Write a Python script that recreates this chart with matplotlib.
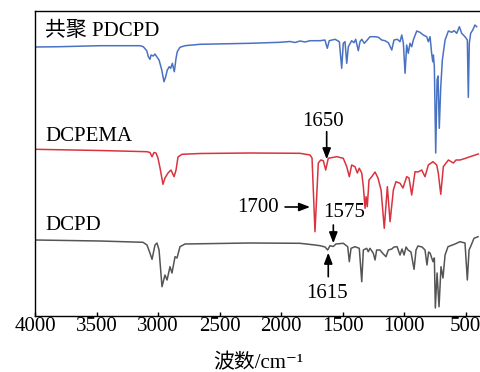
import matplotlib
matplotlib.use("Agg")
import matplotlib.pyplot as plt

# ---- data (wavenumber cm-1, stacked relative transmittance) ----
pdcpd_wn = [4000, 3797, 3472, 3147, 3120, 3092, 3079, 3066, 3057, 3039, 3025, 3011, 2992, 2970, 2952,
            2938, 2925, 2909, 2897, 2884, 2868, 2854, 2844, 2822, 2781, 2659, 2253, 2009, 1928, 1887,
            1846, 1806, 1765, 1684, 1644, 1625, 1609, 1562, 1527, 1508, 1495, 1481, 1467, 1454, 1427,
            1408, 1394, 1373, 1359, 1345, 1324, 1305, 1278, 1237, 1210, 1183, 1156, 1129, 1101, 1083,
            1056, 1034, 1020, 1007, 993, 980, 967, 953, 939, 926, 898, 872, 845, 817, 804, 790, 777,
            768, 763, 755, 744, 733, 725, 715, 703, 690, 668, 641, 614, 595, 573, 552, 533, 506, 487,
            479, 471, 460, 443, 425, 411]
pdcpd_t = [268.7, 269, 270, 270, 269, 265, 259, 256.4, 260.7, 259.7, 261.7, 259, 255.7, 245.7, 234,
           239, 245.7, 249, 247.4, 252.4, 244, 257.4, 264, 268.4, 270, 271.4, 272.4, 273.4, 274.2, 273.2,
           274.7, 273.7, 275, 275, 275.7, 267.4, 275, 276.4, 274, 247.4, 272.4, 274, 252.4, 269, 275,
           273, 276.4, 265, 274, 276.4, 272.4, 275, 279, 279, 278.4, 275.7, 275, 273, 265.7, 275.7,
           276.4, 274, 280.7, 272.7, 242.4, 270.7, 262.4, 272.4, 269, 275.7, 284.7, 283.4, 280.7, 279, 274, 279, 262.4,
           254, 260.7, 249, 162.7, 235.7, 239.7, 187.4, 229, 255.7, 275.7, 284.7, 283.4, 285, 282.4, 289, 282.4, 279, 275.7,
           218.4, 272.4, 282.4, 285.7, 290.7, 289]

dcpema_wn = [4000, 3472, 3090, 3066, 3049, 3033, 3017, 3001, 2984, 2960, 2944, 2919, 2895, 2870, 2854,
             2838, 2806, 2659, 2253, 1847, 1765, 1749, 1725, 1698, 1678, 1657, 1638, 1617, 1548, 1495,
             1467, 1446, 1427, 1400, 1381, 1365, 1345, 1332, 1318, 1310, 1300, 1286, 1264, 1237, 1213,
             1188, 1162, 1137, 1115, 1088, 1067, 1034, 1010, 980, 961, 939, 912, 888, 858, 831, 804,
             766, 736, 723, 703, 682, 641, 601, 579, 546, 506, 465, 398]
dcpema_t = [166.4, 165.2, 164, 163.2, 159, 163.2, 162.7, 157.7, 147.7, 131.4, 137.7, 142.7, 145.7, 139, 145.7,
            158.7, 161.4, 162.2, 162.7, 162.4, 160.7, 157.7, 84, 152.7, 155.7, 155, 145.7, 157.4, 159, 157.4,
            149, 139, 150.7, 149, 142.7, 147.4, 142.7, 129, 107.4, 119, 109, 135.7, 139, 143.7, 137.7,
            125.7, 87.4, 129, 94, 125.7, 134, 132.4, 127.7, 139, 137.7, 120.7, 144, 143.7, 145.7, 139, 150.7,
            154, 150.7, 142.7, 121.4, 149, 155.7, 152.7, 155.7, 155.7, 157.2, 159, 161.7]

dcpd_wn = [4000, 3472, 3122, 3090, 3066, 3049, 3025, 3009, 2992, 2968, 2944, 2927, 2903, 2887, 2862,
           2846, 2822, 2781, 2253, 1847, 1725, 1684, 1643, 1622, 1603, 1576, 1555, 1495, 1459, 1446,
           1432, 1400, 1365, 1345, 1332, 1305, 1292, 1278, 1251, 1237, 1224, 1197, 1175, 1148, 1129,
           1101, 1083, 1058, 1034, 1018, 1001, 985, 969, 945, 920, 904, 888, 855, 831, 815, 802, 790,
           766, 755, 747, 733, 717, 701, 685, 668, 644, 587, 547, 506, 487, 473, 461, 433, 400]
dcpd_t = [75.7, 74.7, 73.4, 70.7, 62.7, 56.4, 70.7, 72.7, 65.7, 29, 40.7, 35.7, 49, 42.7, 59,
          57.7, 69, 71.7, 72.7, 72.4, 70.7, 70, 68.7, 65.7, 70, 69.2, 71.7, 72.4, 69, 54,
          67.4, 69, 67.4, 34, 65.7, 67.4, 64, 67.4, 62.4, 55.7, 65.7, 65.7, 62.4, 59, 65.7,
          66.7, 68.7, 69, 60.7, 66.7, 60.7, 68.7, 65.7, 63.7, 46.4, 65.7, 69.7, 68.7, 65.7, 50.7, 63.7, 62.7,
          54, 57.7, 7.7, 42.7, 9, 49, 37.7, 60.7, 69, 71.7, 74, 72.7, 35.7, 65.7, 69, 77.4, 79]

series_names = ["共聚 PDCPD", "DCPEMA", "DCPD"]
xticks = [4000, 3500, 3000, 2500, 2000, 1500, 1000, 500]
xlabel = "波数/cm⁻¹"
annotations = ["1650", "1700", "1575", "1615"]

# ---- style ----
FONT = ["Liberation Serif", "Noto Sans CJK SC", "DejaVu Serif"]
plt.rcParams["font.family"] = FONT
plt.rcParams["font.size"] = 15

fig = plt.figure(figsize=(4.81, 3.72), dpi=100)
ax = fig.add_axes([35 / 481, 1 - 315.7 / 372, 1 - 35 / 481, (315.7 - 10.5) / 372])

ax.plot(pdcpd_wn, pdcpd_t, color="#4a72c2", lw=1.1)
ax.plot(dcpema_wn, dcpema_t, color="#d93340", lw=1.1)
ax.plot(dcpd_wn, dcpd_t, color="#555555", lw=1.1)

ax.set_xlim(4000, 376)
ax.set_ylim(0, 305.2)
ax.set_xticks(xticks)
ax.set_xticklabels([str(t) for t in xticks])
ax.set_yticks([])
ax.tick_params(axis="x", direction="in", length=3, width=1, pad=1, labelsize=15)
ax.spines["right"].set_visible(False)
for s in ["top", "left", "bottom"]:
    ax.spines[s].set_linewidth(1.0)

ax.set_xlabel(xlabel, fontsize=15, labelpad=13)

ax.text(3919, 284.5, series_names[0], ha="left", va="center", fontsize=15)
ax.text(3914, 179, series_names[1], ha="left", va="center", fontsize=15)
ax.text(3914, 90.5, series_names[2], ha="left", va="center", fontsize=15)

ap = dict(arrowstyle="-|>,head_length=0.65,head_width=0.25", color="black", lw=1.2,
          mutation_scale=10, shrinkA=0, shrinkB=0)
ax.text(1660, 194.7, annotations[0], ha="center", va="center", fontsize=15)
ax.annotate("", xy=(1630, 156.4), xytext=(1630, 184), arrowprops=ap)
ax.text(2185, 108.7, annotations[1], ha="center", va="center", fontsize=15)
ax.annotate("", xy=(1765, 108.7), xytext=(1968, 108.7), arrowprops=ap)
ax.text(1489, 103, annotations[2], ha="center", va="center", fontsize=15)
ax.annotate("", xy=(1576, 72.4), xytext=(1576, 90.7), arrowprops=ap)
ax.text(1627, 21.7, annotations[3], ha="center", va="center", fontsize=15)
ax.annotate("", xy=(1617, 63), xytext=(1617, 39), arrowprops=ap)

fig.savefig("out.png", dpi=100)
